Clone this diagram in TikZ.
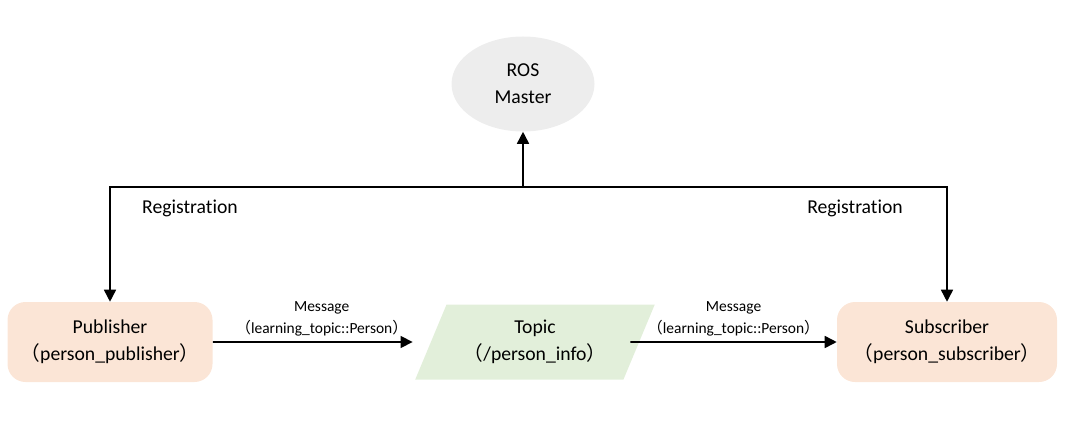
\documentclass[tikz,border=0pt]{standalone}
\usepackage{fontspec}
\setmainfont{Carlito}[Ligatures=NoCommon]
\newfontfamily\cjk{Noto Sans CJK SC}
\usetikzlibrary{shapes.geometric, arrows.meta}
\newcommand{\lpar}{{\cjk （}}
\newcommand{\rpar}{{\cjk ）}}
\definecolor{peach}{HTML}{FBE5D6}
\definecolor{leaf}{HTML}{E2EFDA}
\definecolor{cloud}{HTML}{EDEDED}
\tikzstyle{nodebox} = [rectangle, rounded corners=0.45cm, minimum height=2cm, text centered, align=center, fill=peach, font=\fontsize{14}{19}\selectfont]
\tikzstyle{topicbox} = [trapezium, trapezium left angle=63, trapezium right angle=117, trapezium stretches=true, minimum width=6cm, minimum height=1.875cm, align=center, fill=leaf, font=\fontsize{14}{19}\selectfont]
\tikzstyle{masterbox} = [ellipse, minimum width=3.575cm, minimum height=2.375cm, align=center, fill=cloud, font=\fontsize{14}{19}\selectfont]
\tikzstyle{msg} = [above, align=center, font=\fontsize{11}{16}\selectfont]
\tikzstyle{reg} = [font=\fontsize{14}{17}\selectfont]
\tikzstyle{arrow} = [line width=1.1pt, -{Triangle[length=0.3cm, width=0.3cm]}]

\begin{document}
\begin{tikzpicture}[node distance=10.625cm]
\useasboundingbox (0,0) rectangle (26.7,-10.625);
\node (pub) [nodebox, minimum width=5.125cm] at (2.75,-8.55) {Publisher\\\lpar person\_publisher\rpar};
\node (topic) [topicbox, right of=pub] {Topic\\\lpar/person\_info\rpar};
\node (sub) [nodebox, minimum width=5.5cm, right of=topic, node distance=10.3cm] {Subscriber\\\lpar person\_subscriber\rpar};
\node (master) [masterbox] at (13.075,-2.1) {ROS\\Master};
\coordinate (hub) at (13.075,-4.675);
\node (regpub) [reg] at (4.75,-5.2) {Registration};
\node (regsub) [reg] at (21.375,-5.2) {Registration};
\draw [arrow] (hub) -- (master);
\draw [arrow] (hub) -| (pub);
\draw [arrow] (hub) -| (sub);
\draw [arrow, shorten >=0.45cm] (pub.east) -- node[msg]{Message\\\lpar learning\_topic::Person\rpar} (topic.west);
\draw [arrow] ([xshift=-0.225cm]topic.east) -- node[msg]{Message\\\lpar learning\_topic::Person\rpar} (sub.west);
\end{tikzpicture}
\end{document}
